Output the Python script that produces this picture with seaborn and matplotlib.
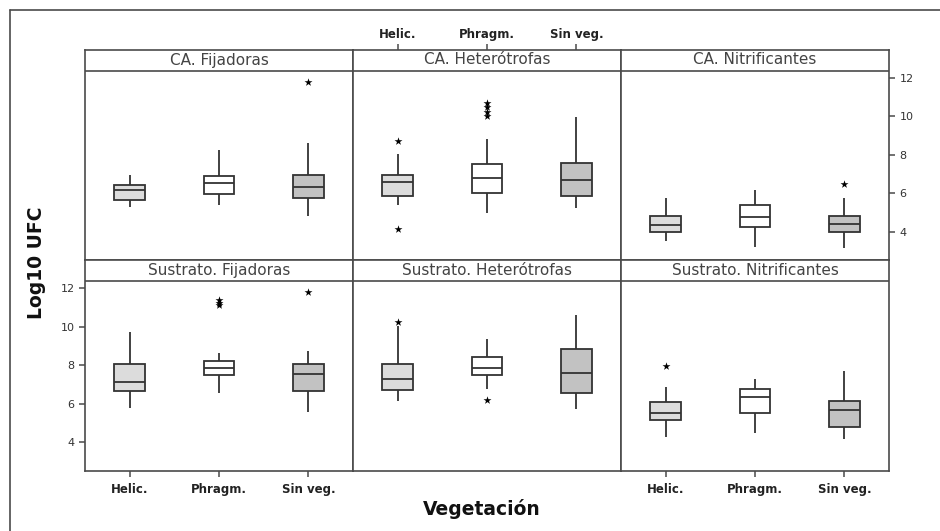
import numpy as np
import pandas as pd
import seaborn as sns
import matplotlib.pyplot as plt
from matplotlib.lines import Line2D

sns.set_theme(style="ticks")
plt.rcParams["font.family"] = ["DejaVu Sans"]

# categorias y paneles
vegetacion = ["Helic.", "Phragm.", "Sin veg."]
paneles = ["CA. Fijadoras", "CA. Heterótrofas", "CA. Nitrificantes",
           "Sustrato. Fijadoras", "Sustrato. Heterótrofas", "Sustrato. Nitrificantes"]

# resumen de cada caja: bigote inf, Q1, mediana, Q3, bigote sup
ca_fijadoras = [[5.30, 5.66, 6.17, 6.44, 6.95],
                [5.39, 5.94, 6.51, 6.88, 8.24],
                [4.82, 5.75, 6.32, 6.95, 8.59]]
ca_heterotrofas = [[5.39, 5.87, 6.60, 6.96, 8.02],
                   [4.96, 6.03, 6.81, 7.52, 8.80],
                   [5.22, 5.87, 6.67, 7.58, 9.97]]
ca_nitrificantes = [[3.52, 3.97, 4.35, 4.82, 5.74],
                    [3.22, 4.23, 4.75, 5.39, 6.17],
                    [3.17, 3.97, 4.42, 4.82, 5.74]]
sus_fijadoras = [[5.77, 6.65, 7.15, 8.07, 9.71],
                 [6.57, 7.50, 7.84, 8.24, 8.62],
                 [5.56, 6.65, 7.55, 8.07, 8.76]]
sus_heterotrofas = [[6.13, 6.70, 7.29, 8.07, 10.05],
                    [6.77, 7.50, 7.86, 8.42, 9.37],
                    [5.70, 6.58, 7.58, 8.85, 10.58]]
sus_nitrificantes = [[4.26, 5.13, 5.51, 6.08, 6.86],
                     [4.49, 5.51, 6.37, 6.77, 7.29],
                     [4.14, 4.78, 5.65, 6.13, 7.72]]
resumenes = [ca_fijadoras, ca_heterotrofas, ca_nitrificantes,
             sus_fijadoras, sus_heterotrofas, sus_nitrificantes]

# valores atipicos (asteriscos)
atip_panel = ["CA. Fijadoras", "CA. Heterótrofas", "CA. Heterótrofas",
              "CA. Heterótrofas", "CA. Heterótrofas", "CA. Heterótrofas", "CA. Heterótrofas",
              "CA. Nitrificantes",
              "Sustrato. Fijadoras", "Sustrato. Fijadoras", "Sustrato. Fijadoras",
              "Sustrato. Fijadoras",
              "Sustrato. Heterótrofas", "Sustrato. Heterótrofas",
              "Sustrato. Nitrificantes"]
atip_veg = ["Sin veg.", "Helic.", "Helic.",
            "Phragm.", "Phragm.", "Phragm.", "Phragm.",
            "Sin veg.",
            "Phragm.", "Phragm.", "Phragm.",
            "Sin veg.",
            "Helic.", "Phragm.",
            "Helic."]
atip_valor = [11.79, 8.73, 4.16,
              10.0, 10.2, 10.5, 10.7,
              6.48,
              11.1, 11.25, 11.4,
              11.79,
              10.23, 6.20,
              7.98]

colores = {"Helic.": "#dcdcdc", "Phragm.": "#ffffff", "Sin veg.": "#c2c2c2"}
y_ticks = [4, 6, 8, 10, 12]

filas = []
for panel, resumen in zip(paneles, resumenes):
    for veg, valores in zip(vegetacion, resumen):
        for v in valores:
            filas.append((panel, veg, v))
df = pd.DataFrame(filas, columns=["Panel", "Vegetacion", "Log10 UFC"])
atip = pd.DataFrame({"Panel": atip_panel, "Vegetacion": atip_veg, "Log10 UFC": atip_valor})

W, H = 940, 531
fig = plt.figure(figsize=(W / 100, H / 100), dpi=100)
linea = "#4a4a4a"

x_bordes = [85, 353, 621, 889]
y_filas = [(49.5, 260), (260, 470.5)]
cab = 21  # alto de la cabecera en px
ymin, ytop = 2.53, 12.37

for i, panel in enumerate(paneles):
    r, c = divmod(i, 3)
    y0, y1 = y_filas[r]
    alto = y1 - y0
    ax = fig.add_axes([x_bordes[c] / W, 1 - y1 / H,
                       (x_bordes[c + 1] - x_bordes[c]) / W, alto / H])
    sub = df[df["Panel"] == panel]
    sns.boxplot(data=sub, x="Vegetacion", y="Log10 UFC", hue="Vegetacion",
                order=vegetacion, hue_order=vegetacion, palette=colores,
                saturation=1, whis=np.inf, showcaps=False, width=0.34,
                linewidth=1.3, linecolor="#333333", legend=False, ax=ax)
    sub_a = atip[atip["Panel"] == panel]
    if len(sub_a):
        sns.stripplot(data=sub_a, x="Vegetacion", y="Log10 UFC", order=vegetacion,
                      jitter=False, marker="*", color="black", size=6, ax=ax)
    ymax = ymin + (ytop - ymin) * alto / (alto - cab)
    ax.set_xlim(-0.5, 2.5)
    ax.set_ylim(ymin, ymax)
    ax.set_xlabel("")
    ax.set_ylabel("")
    ax.axhline(ytop, color=linea, lw=1.2)
    ax.text(0.5, 1 - (cab / 2) / alto, panel, transform=ax.transAxes,
            ha="center", va="center", fontsize=11, color="#444444")
    for s in ax.spines.values():
        s.set_color(linea)
        s.set_linewidth(1.2)
    ax.tick_params(colors=linea, length=4, width=1.1, direction="out")
    ax.set_yticks(y_ticks)
    ax.set_xticks(range(len(vegetacion)))
    ax.set_xticklabels(vegetacion, fontweight="bold", fontsize=8.5, color="#222222")
    ax.tick_params(axis="y", labelsize=8, labelcolor="#333333")

    # ejes alternados estilo Minitab
    if r == 1 and c in (0, 2):
        ax.tick_params(axis="x", bottom=True, labelbottom=True, top=False, labeltop=False, pad=5)
    elif r == 0 and c == 1:
        ax.tick_params(axis="x", bottom=False, labelbottom=False, top=True, labeltop=True, pad=2)
    else:
        ax.tick_params(axis="x", bottom=False, labelbottom=False, top=False, labeltop=False)
    if r == 1 and c == 0:
        ax.tick_params(axis="y", left=True, labelleft=True, right=False, labelright=False)
    elif r == 0 and c == 2:
        ax.tick_params(axis="y", left=False, labelleft=False, right=True, labelright=True)
    else:
        ax.tick_params(axis="y", left=False, labelleft=False, right=False, labelright=False)

# marco exterior
fig.add_artist(Line2D([10 / W, 10 / W], [0, 1 - 10 / H], transform=fig.transFigure,
                      color=linea, lw=1.2))
fig.add_artist(Line2D([10 / W, 1], [1 - 10 / H, 1 - 10 / H], transform=fig.transFigure,
                      color=linea, lw=1.2))

fig.text(37 / W, 1 - 263 / H, "Log10 UFC", rotation=90, ha="center", va="center",
         fontsize=13.5, fontweight="bold", color="#111111")
fig.text(482 / W, 1 - 509 / H, "Vegetación", ha="center", va="center",
         fontsize=13.5, fontweight="bold", color="#111111")

fig.savefig("out.png", dpi=100)
